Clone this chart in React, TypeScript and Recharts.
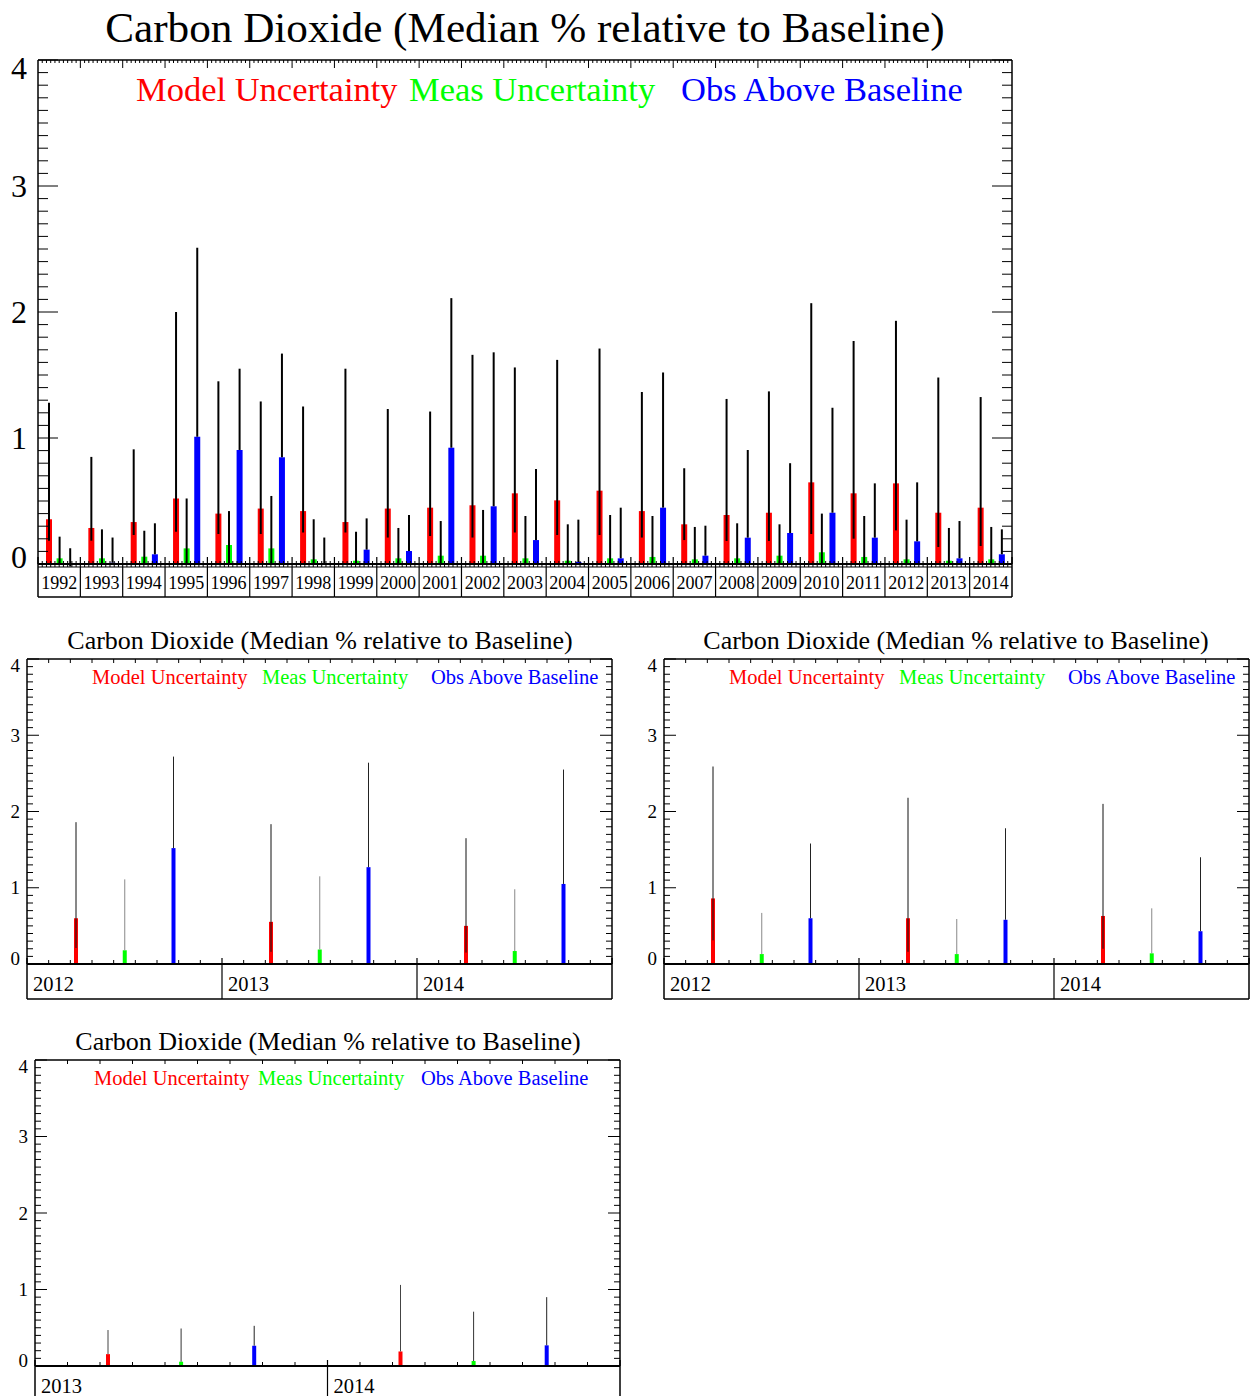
import React from 'react';
import { BarChart, Bar, XAxis, YAxis, ErrorBar, Legend } from 'recharts';

const SERIF = '"Liberation Serif", "Times New Roman", Times, serif';
const TITLE = 'Carbon Dioxide (Median % relative to Baseline)';
const SERIES_KEYS = ['model', 'meas', 'obs'];
const SERIES_NAMES = ['Model Uncertainty', 'Meas Uncertainty', 'Obs Above Baseline'];
const SERIES_COLORS = ['#ff0000', '#00ff00', '#0000ff'];
const Y_TICKS = [0, 0.1, 0.2, 0.3, 0.4, 0.5, 0.6, 0.7, 0.8, 0.9, 1, 1.1, 1.2, 1.3, 1.4, 1.5, 1.6, 1.7, 1.8, 1.9, 2, 2.1, 2.2, 2.3, 2.4, 2.5, 2.6, 2.7, 2.8, 2.9, 3, 3.1, 3.2, 3.3, 3.4, 3.5, 3.6, 3.7, 3.8, 3.9, 4];

// ---------- Panel A : 1992 - 2014 ----------
const yearsA = ['1992', '1993', '1994', '1995', '1996', '1997', '1998', '1999', '2000', '2001', '2002', '2003', '2004', '2005', '2006', '2007', '2008', '2009', '2010', '2011', '2012', '2013', '2014'];
const modelA = [0.355, 0.286, 0.333, 0.52, 0.40, 0.44, 0.42, 0.333, 0.44, 0.447, 0.466, 0.561, 0.505, 0.582, 0.42, 0.315, 0.389, 0.407, 0.648, 0.561, 0.64, 0.407, 0.447];
const modelLowA = [0.185, 0.185, 0.23, 0.256, 0.238, 0.238, 0.25, 0.25, 0.21, 0.222, 0.21, 0.25, 0.23, 0.23, 0.21, 0.19, 0.183, 0.183, 0.238, 0.201, 0.267, 0.135, 0.143];
const modelHighA = [1.28, 0.85, 0.91, 2.0, 1.45, 1.29, 1.25, 1.55, 1.23, 1.21, 1.66, 1.56, 1.62, 1.71, 1.365, 0.76, 1.31, 1.37, 2.07, 1.77, 1.93, 1.48, 1.325];
const measA = [0.045, 0.045, 0.058, 0.124, 0.151, 0.124, 0.037, 0.026, 0.045, 0.066, 0.066, 0.045, 0.026, 0.045, 0.056, 0.037, 0.045, 0.066, 0.093, 0.056, 0.037, 0.026, 0.037];
const measLowA = [0, 0, 0, 0, 0, 0, 0, 0, 0, 0, 0, 0, 0, 0, 0, 0, 0, 0, 0, 0, 0, 0, 0];
const measHighA = [0.217, 0.275, 0.264, 0.52, 0.42, 0.54, 0.355, 0.256, 0.286, 0.341, 0.429, 0.381, 0.315, 0.389, 0.381, 0.294, 0.323, 0.315, 0.40, 0.381, 0.352, 0.286, 0.294];
const obsA = [-0.02, 0.01, 0.077, 1.01, 0.905, 0.847, 0.008, 0.114, 0.103, 0.923, 0.458, 0.19, 0.016, 0.045, 0.447, 0.066, 0.209, 0.246, 0.407, 0.209, 0.18, 0.045, 0.077];
const obsHighA = [0.125, 0.21, 0.323, 2.51, 1.55, 1.67, 0.21, 0.362, 0.389, 2.11, 1.68, 0.754, 0.352, 0.447, 1.52, 0.304, 0.905, 0.80, 1.24, 0.64, 0.648, 0.341, 0.275];

// ---------- Panel B : 2012 - 2014 ----------
const yearsB = ['2012', '2013', '2014'];
const modelB = [0.6, 0.553, 0.5];
const modelLowB = [0.21, 0.16, 0.15];
const modelHighB = [1.86, 1.834, 1.65];
const measB = [0.18, 0.19, 0.17];
const measHighB = [1.11, 1.15, 0.98];
const obsB = [1.52, 1.27, 1.05];
const obsHighB = [2.72, 2.64, 2.55];

// ---------- Panel C : 2012 - 2014 ----------
const yearsC = ['2012', '2013', '2014'];
const modelC = [0.86, 0.6, 0.63];
const modelLowC = [0.31, 0.16, 0.2];
const modelHighC = [2.59, 2.18, 2.1];
const measC = [0.13, 0.13, 0.14];
const measHighC = [0.67, 0.59, 0.73];
const obsC = [0.6, 0.58, 0.43];
const obsHighC = [1.58, 1.78, 1.4];

// ---------- Panel D : 2013 - 2014 ----------
const yearsD = ['2013', '2014'];
const modelD = [0.155, 0.19];
const modelHighD = [0.47, 1.06];
const measD = [0.056, 0.065];
const measHighD = [0.49, 0.71];
const obsD = [0.265, 0.27];
const obsHighD = [0.525, 0.9];

function buildRows(
  years: string[],
  model: number[], modelLow: number[], modelHigh: number[],
  meas: number[], measLow: number[], measHigh: number[],
  obs: number[], obsLow: number[], obsHigh: number[]
) {
  return years.map((year, i) => ({
    year,
    model: model[i],
    modelErr: [model[i] - modelLow[i], modelHigh[i] - model[i]],
    meas: meas[i],
    measErr: [meas[i] - measLow[i], measHigh[i] - meas[i]],
    obs: obs[i],
    obsErr: [obs[i] - obsLow[i], obsHigh[i] - obs[i]],
  }));
}

const rowsA = buildRows(yearsA, modelA, modelLowA, modelHighA, measA, measLowA, measHighA, obsA, obsA, obsHighA);
const rowsB = buildRows(yearsB, modelB, modelLowB, modelHighB, measB, measB, measHighB, obsB, obsB, obsHighB);
const rowsC = buildRows(yearsC, modelC, modelLowC, modelHighC, measC, measC, measHighC, obsC, obsC, obsHighC);
const rowsD = buildRows(yearsD, modelD, modelD, modelHighD, measD, measD, measHighD, obsD, obsD, obsHighD);

type Cfg = {
  left: number; top: number; width: number; height: number;
  yAxisW: number; yAxisRW: number; topH: number; bottomH: number; bandH: number;
  barSize: number; barGap: number; errW: number; errColors: string[];
  yFont: number; yLabelGap: number; yDy0: number; yDy4: number; majorLen: number; minorLen: number;
  xFont: number; xCenter: boolean; xTextDy: number; xTextPad: number; sepUp: number;
  topTicks: number; topMinorLen: number; topMajorLen: number;
  bottomTicks: number; bottomUp: number; bottomDown: number; doubleLine: boolean; zeroW: number;
  titleFont: number; titleX: number; titleY: number;
  legendFont: number; legendY: number; legendX: number[];
};

const cfgA: Cfg = {
  left: 0, top: 0, width: 1020, height: 600,
  yAxisW: 38, yAxisRW: 8, topH: 60, bottomH: 36, bandH: 33,
  barSize: 6, barGap: 4.6, errW: 2, errColors: ['#000', '#000', '#000'],
  yFont: 32, yLabelGap: 11, yDy0: -7, yDy4: 8, majorLen: 20, minorLen: 10,
  xFont: 18, xCenter: true, xTextDy: 19, xTextPad: 0, sepUp: 7,
  topTicks: 10, topMinorLen: 3, topMajorLen: 8,
  bottomTicks: 10, bottomUp: 3, bottomDown: 3, doubleLine: true, zeroW: 2,
  titleFont: 43.2, titleX: 525, titleY: 28,
  legendFont: 34.5, legendY: 89, legendX: [136, 409, 681],
};

const smallBase = {
  height: 380, topH: 39, bottomH: 36, bandH: 35,
  barSize: 4, errW: 1,
  yFont: 19, yLabelGap: 7, yDy0: -6, yDy4: 6, majorLen: 12, minorLen: 6,
  xFont: 20.5, xCenter: false, xTextDy: 20, xTextPad: 6, sepUp: 6,
  topTicks: 9, topMinorLen: 4, topMajorLen: 4,
  bottomTicks: 9, bottomUp: 4, bottomDown: 0, doubleLine: false, zeroW: 2,
  titleFont: 26, titleY: 21,
  legendFont: 20.5, legendY: 57,
};

const cfgB: Cfg = {
  ...smallBase, left: 0, top: 620, width: 620, yAxisW: 27, yAxisRW: 8,
  barGap: 44.75, errColors: ['#111', '#888', '#222'], titleX: 320, legendX: [92, 262, 431],
};
const cfgC: Cfg = {
  ...smallBase, left: 637, top: 620, width: 613, yAxisW: 27, yAxisRW: 1,
  barGap: 44.75, errColors: ['#111', '#888', '#222'], titleX: 319, legendX: [92, 262, 431],
};
const cfgD: Cfg = {
  ...smallBase, left: 0, top: 1021, width: 628, height: 375, bottomH: 30,
  yAxisW: 35, yAxisRW: 8, barGap: 69.1, errColors: ['#444', '#333', '#222'],
  titleX: 328, legendX: [94, 258, 421],
};

function YTick(props: any) {
  const { x, y, payload, side, cfg } = props;
  const v = payload.value as number;
  const major = Math.abs(v - Math.round(v)) < 1e-6;
  const len = major ? cfg.majorLen : cfg.minorLen;
  const dir = side === 'left' ? 1 : -1;
  const iv = Math.round(v);
  let dy = 0;
  if (major && iv === 0) dy = cfg.yDy0;
  if (major && iv === 4) dy = cfg.yDy4;
  return (
    <g>
      <line x1={x} y1={y} x2={x + dir * len} y2={y} stroke="#000" strokeWidth={1} />
      {side === 'left' && major ? (
        <text x={x - cfg.yLabelGap} y={y + dy} textAnchor="end" dominantBaseline="central"
          fontSize={cfg.yFont} fontFamily={SERIF} fill="#000">{iv}</text>
      ) : null}
    </g>
  );
}

function BottomTick(props: any) {
  const { x, y, payload, index, cfg, n } = props;
  const bw = (cfg.width - cfg.yAxisW - cfg.yAxisRW) / n;
  const left = x - bw / 2;
  const right = x + bw / 2;
  const items: React.ReactNode[] = [];
  for (let k = 1; k < cfg.bottomTicks; k++) {
    const tx = left + (k * bw) / cfg.bottomTicks;
    items.push(<line key={'m' + k} x1={tx} x2={tx} y1={y - cfg.bottomUp} y2={y + cfg.bottomDown} stroke="#000" strokeWidth={1} />);
  }
  items.push(<line key="sepL" x1={left} x2={left} y1={y - cfg.sepUp} y2={y + cfg.bandH} stroke="#000" strokeWidth={index === 0 ? 1.5 : 1.2} />);
  if (index === n - 1) {
    items.push(<line key="sepR" x1={right} x2={right} y1={y - cfg.sepUp} y2={y + cfg.bandH} stroke="#000" strokeWidth={1.5} />);
  }
  items.push(<line key="bot" x1={left} x2={right} y1={y + cfg.bandH} y2={y + cfg.bandH} stroke="#000" strokeWidth={1.5} />);
  if (cfg.doubleLine) {
    items.push(<line key="dbl" x1={left} x2={right} y1={y + 3} y2={y + 3} stroke="#000" strokeWidth={1} />);
  }
  items.push(
    <text key="lbl" x={cfg.xCenter ? x : left + cfg.xTextPad} y={y + cfg.xTextDy}
      textAnchor={cfg.xCenter ? 'middle' : 'start'} dominantBaseline="central"
      fontSize={cfg.xFont} fontFamily={SERIF} fill="#000">{payload.value}</text>
  );
  return <g>{items}</g>;
}

function TopTick(props: any) {
  const { x, y, index, cfg, n } = props;
  const bw = (cfg.width - cfg.yAxisW - cfg.yAxisRW) / n;
  const left = x - bw / 2;
  const items: React.ReactNode[] = [];
  for (let k = 0; k < cfg.topTicks; k++) {
    if (index === 0 && k === 0) continue;
    const tx = left + (k * bw) / cfg.topTicks;
    const len = k === 0 ? cfg.topMajorLen : cfg.topMinorLen;
    items.push(<line key={k} x1={tx} x2={tx} y1={y} y2={y + len} stroke="#000" strokeWidth={1} />);
  }
  return <g>{items}</g>;
}

function Panel({ cfg, rows }: { cfg: Cfg; rows: any[] }) {
  const n = rows.length;
  return (
    <div style={{ position: 'absolute', left: cfg.left, top: cfg.top, width: cfg.width, height: cfg.height }}>
      <BarChart width={cfg.width} height={cfg.height} data={rows}
        margin={{ top: 0, right: 0, bottom: 0, left: 0 }} barGap={cfg.barGap} barSize={cfg.barSize}>
        <XAxis xAxisId="bottom" dataKey="year" orientation="bottom" height={cfg.bottomH} interval={0}
          tickSize={0} tickMargin={0} tickLine={false}
          axisLine={{ stroke: '#000', strokeWidth: cfg.zeroW }}
          tick={(p: any) => <BottomTick {...p} cfg={cfg} n={n} />} />
        <XAxis xAxisId="top" dataKey="year" orientation="top" height={cfg.topH} interval={0}
          tickSize={0} tickMargin={0} tickLine={false}
          axisLine={{ stroke: '#000', strokeWidth: 1.5 }}
          tick={(p: any) => <TopTick {...p} cfg={cfg} n={n} />} />
        <YAxis yAxisId="left" orientation="left" width={cfg.yAxisW} domain={[0, 4]} allowDataOverflow
          ticks={Y_TICKS} interval={0} tickSize={0} tickMargin={0} tickLine={false}
          axisLine={{ stroke: '#000', strokeWidth: 1.5 }}
          tick={(p: any) => <YTick {...p} side="left" cfg={cfg} />} />
        <YAxis yAxisId="right" orientation="right" width={cfg.yAxisRW} domain={[0, 4]} allowDataOverflow
          ticks={Y_TICKS} interval={0} tickSize={0} tickMargin={0} tickLine={false}
          axisLine={{ stroke: '#000', strokeWidth: 1.5 }}
          tick={(p: any) => <YTick {...p} side="right" cfg={cfg} />} />
        {SERIES_KEYS.map((key, i) => (
          <Bar key={key} dataKey={key} name={SERIES_NAMES[i]} fill={SERIES_COLORS[i]}
            xAxisId="bottom" yAxisId="left" barSize={cfg.barSize} isAnimationActive={false}>
            <ErrorBar dataKey={key + 'Err'} width={0} stroke={cfg.errColors[i]} strokeWidth={cfg.errW}
              direction="y" isAnimationActive={false} />
          </Bar>
        ))}
        <Legend layout="horizontal" verticalAlign="middle" align="center"
          wrapperStyle={{ left: 0, top: 0, width: cfg.width, height: 0, margin: 0, padding: 0 }}
          content={(lp: any) => (
            <div style={{ position: 'relative', width: cfg.width, height: 0 }}>
              {(lp.payload || []).map((item: any) => {
                const i = SERIES_KEYS.indexOf(item.dataKey);
                return (
                  <span key={item.dataKey} style={{
                    position: 'absolute', left: cfg.legendX[i], top: cfg.legendY,
                    transform: 'translateY(-50%)', color: item.color, fontSize: cfg.legendFont,
                    fontFamily: SERIF, whiteSpace: 'nowrap', lineHeight: 1,
                  }}>{item.value}</span>
                );
              })}
            </div>
          )} />
      </BarChart>
      <div style={{
        position: 'absolute', left: cfg.titleX, top: cfg.titleY, transform: 'translate(-50%, -50%)',
        fontFamily: SERIF, fontSize: cfg.titleFont, whiteSpace: 'nowrap', lineHeight: 1, color: '#000',
      }}>{TITLE}</div>
    </div>
  );
}

export default function App() {
  return (
    <div style={{ position: 'absolute', left: 0, top: 0, width: 1250, height: 1396, background: '#fff', overflow: 'hidden' }}>
      <Panel cfg={cfgA} rows={rowsA} />
      <Panel cfg={cfgB} rows={rowsB} />
      <Panel cfg={cfgC} rows={rowsC} />
      <Panel cfg={cfgD} rows={rowsD} />
    </div>
  );
}
